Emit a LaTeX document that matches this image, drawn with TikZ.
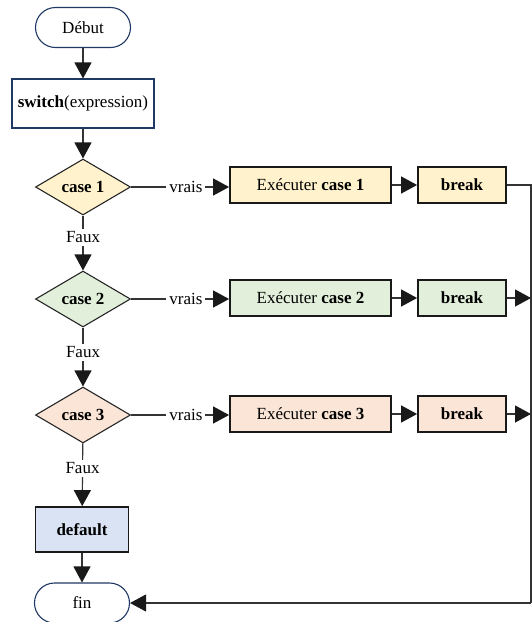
\documentclass[tikz,border=0pt]{standalone}
\usepackage{fontspec}
\setmainfont{Liberation Serif}
\usetikzlibrary{shapes.geometric,arrows.meta}

\definecolor{navy}{HTML}{203864}
\definecolor{fillA}{HTML}{FFF2CC}
\definecolor{fillB}{HTML}{E2EFDA}
\definecolor{fillC}{HTML}{FBE5D6}
\definecolor{fillD}{HTML}{DAE3F3}
\definecolor{wire}{HTML}{333333}

\tikzset{
  base/.style={font=\fontsize{17}{20}\selectfont, inner sep=0pt},
  terminal/.style={base, draw=navy, line width=1.1pt, fill=white,
    rounded corners=20pt, minimum width=95pt, minimum height=40pt},
  procbox/.style={base, draw=navy, line width=1.1pt, fill=white,
    minimum width=142pt, minimum height=49pt},
  test/.style={base, diamond, draw=black!85, line width=1.1pt,
    minimum width=95pt, minimum height=56pt},
  action/.style={base, draw=black!90, line width=1.8pt,
    minimum height=36pt},
  flow/.style={draw=wire, line width=1.2pt,
    -{Triangle[length=16pt,width=17pt,color=black!90]}},
  plain/.style={draw=wire, line width=1.2pt},
  lbl/.style={base, fill=white, inner sep=3pt}
}

\begin{document}
\begin{tikzpicture}[x=1pt,y=-1pt]
  \useasboundingbox (0,0) rectangle (532,622);

  % main column
  \node[terminal] (debut) at (83,27.5) {Début};
  \node[procbox] (switch) at (83,103.5) {\textbf{switch}(expression)};
  \node[test, fill=fillA] (c1) at (83,187) {\textbf{case 1}};
  \node[test, fill=fillB] (c2) at (83,299) {\textbf{case 2}};
  \node[test, fill=fillC] (c3) at (83,415) {\textbf{case 3}};
  \node[action, fill=fillD, minimum width=93pt, minimum height=45pt]
    (def) at (82,529.5) {\textbf{default}};
  \node[terminal] (fin) at (82,603) {fin};

  % case bodies
  \node[action, fill=fillA, minimum width=161pt] (e1) at (310.5,185) {Exécuter \textbf{case 1}};
  \node[action, fill=fillB, minimum width=161pt] (e2) at (310.5,298) {Exécuter \textbf{case 2}};
  \node[action, fill=fillC, minimum width=161pt] (e3) at (310.5,414) {Exécuter \textbf{case 3}};
  \node[action, fill=fillA, minimum width=88pt] (b1) at (462,185) {\textbf{break}};
  \node[action, fill=fillB, minimum width=88pt] (b2) at (462,298) {\textbf{break}};
  \node[action, fill=fillC, minimum width=88pt] (b3) at (462,414) {\textbf{break}};

  % return bus on the right
  \coordinate (r1) at (531,185);
  \coordinate (r2) at (531,298);
  \coordinate (r3) at (531,414);
  \coordinate (rb) at (531,603);

  % vertical flow
  \draw[flow] (debut) -- (switch);
  \draw[flow] (switch) -- (c1);
  \draw[flow] (c1) -- node[lbl, pos=0.4] {Faux} (c2);
  \draw[flow] (c2) -- node[lbl, pos=0.42] {Faux} (c3);
  \draw[flow] (c3) -- node[lbl, pos=0.4] {Faux} (def);
  \draw[flow] (def) -- (fin);

  % true branches
  \draw[flow] (c1.east) -- node[lbl, pos=0.56] {vrais} (c1.east -| e1.west);
  \draw[flow] (c2.east) -- node[lbl, pos=0.56] {vrais} (c2.east -| e2.west);
  \draw[flow] (c3.east) -- node[lbl, pos=0.56] {vrais} (c3.east -| e3.west);
  \draw[flow] (e1) -- (b1);
  \draw[flow] (e2) -- (b2);
  \draw[flow] (e3) -- (b3);

  % breaks to the end
  \draw[plain] (b1.east) -- (r1) -- (rb);
  \draw[flow] (b2.east) -- (r2);
  \draw[flow] (b3.east) -- (r3);
  \draw[flow] (rb) -- (fin.east);
\end{tikzpicture}
\end{document}
